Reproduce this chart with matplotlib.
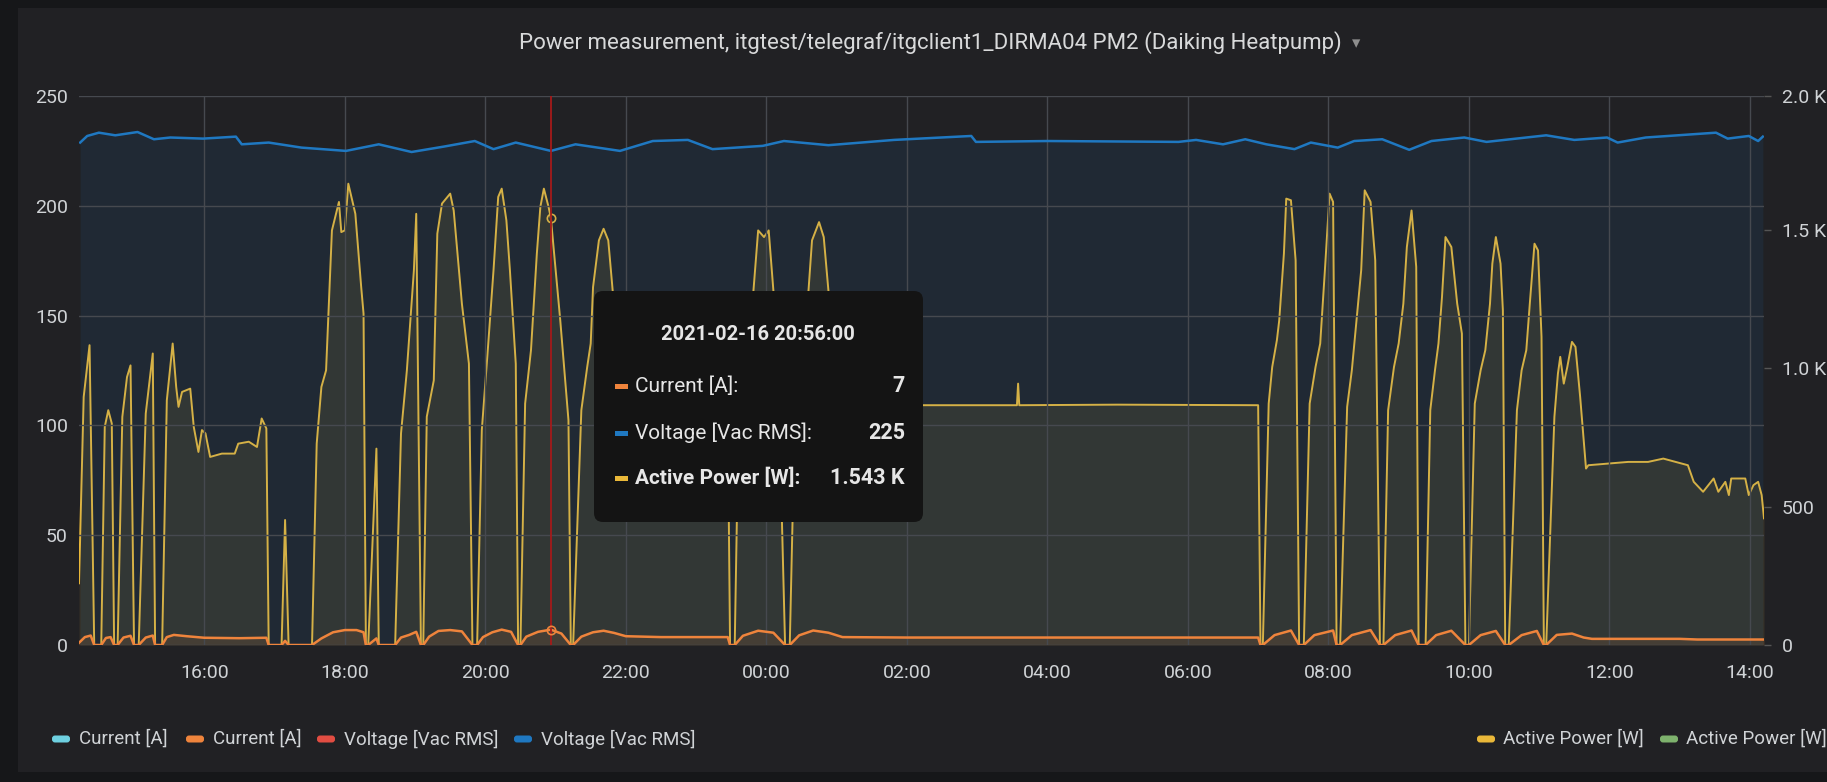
import numpy as np
import pandas as pd
import matplotlib
matplotlib.use("Agg")
import matplotlib.pyplot as plt
import matplotlib.dates as mdates
from matplotlib.patches import FancyBboxPatch, Rectangle
from matplotlib.transforms import IdentityTransform

plt.rcParams['font.family'] = ['Roboto', 'DejaVu Sans']

START_DAY = "2021-02-16"

# Active power [W] (right axis)
power_time = [
    "14:13", "14:17", "14:22", "14:26", "14:32", "14:35", "14:38", "14:41", "14:43",
    "14:46", "14:50", "14:54", "14:57", "15:00", "15:04", "15:10", "15:16", "15:18",
    "15:24", "15:28", "15:33", "15:36", "15:38", "15:41", "15:48", "15:51", "15:55",
    "15:58", "16:01", "16:05", "16:15", "16:26", "16:29", "16:38", "16:45", "16:49",
    "16:53", "16:55", "17:06", "17:09", "17:12", "17:32", "17:36", "17:40", "17:44",
    "17:49", "17:55", "17:57", "18:00", "18:03", "18:06", "18:09", "18:14", "18:16",
    "18:18", "18:20", "18:27", "18:29", "18:43", "18:48", "18:53", "18:59", "19:01",
    "19:05", "19:07", "19:10", "19:16", "19:19", "19:23", "19:30", "19:33", "19:40",
    "19:46", "19:49", "19:53", "19:57", "20:02", "20:07", "20:11", "20:14", "20:18",
    "20:21", "20:26", "20:28", "20:30", "20:34", "20:39", "20:44", "20:47", "20:50",
    "20:54", "20:56", "21:04", "21:11", "21:13", "21:15", "21:22", "21:27", "21:30",
    "21:32", "21:37", "21:41", "21:45", "21:49", "21:58", "22:30", "23:27", "23:29",
    "23:33", "23:36", "23:42", "23:49", "23:53", "23:58", "00:02", "00:06", "00:10",
    "00:16", "00:20", "00:24", "00:30", "00:36", "00:39", "00:45", "00:49", "00:53",
    "01:00", "01:05", "02:14", "03:34", "03:35", "03:36", "05:00", "07:00", "07:02",
    "07:04", "07:09", "07:12", "07:16", "07:18", "07:22", "07:24", "07:28", "07:32",
    "07:35", "07:39", "07:44", "07:49", "07:53", "07:57", "08:01", "08:04", "08:07",
    "08:10", "08:16", "08:20", "08:24", "08:28", "08:31", "08:36", "08:40", "08:44",
    "08:47", "08:51", "08:56", "09:00", "09:04", "09:07", "09:11", "09:15", "09:17",
    "09:23", "09:27", "09:31", "09:34", "09:37", "09:40", "09:45", "09:50", "09:54",
    "09:57", "10:00", "10:05", "10:10", "10:14", "10:18", "10:20", "10:23", "10:27",
    "10:29", "10:31", "10:34", "10:41", "10:45", "10:49", "10:52", "10:56", "10:59",
    "11:02", "11:04", "11:06", "11:13", "11:16", "11:18", "11:21", "11:24", "11:28",
    "11:31", "11:35", "11:40", "11:42", "11:59", "12:16", "12:33", "12:46", "13:02",
    "13:07", "13:12", "13:20", "13:29", "13:33", "13:39", "13:42", "13:44", "13:56",
    "13:59", "14:03", "14:07", "14:10", "14:12",
]
power_w = [
    223, 897, 1084, 0, 0, 789, 849, 801, 0,
    0, 825, 969, 1011, 0, 0, 837, 1054, 0,
    0, 885, 1090, 933, 861, 915, 927, 789, 698,
    777, 765, 680, 692, 692, 728, 735, 716, 819,
    783, 0, 0, 452, 0, 0, 728, 933, 993,
    1499, 1602, 1493, 1499, 1668, 1614, 1559, 1294, 1198,
    0, 0, 710, 0, 0, 765, 993, 1355, 1559,
    0, 0, 825, 957, 1487, 1596, 1632, 1571, 1234,
    1017, 0, 0, 777, 1060, 1355, 1620, 1650, 1535,
    1355, 1017, 0, 0, 873, 1066, 1415, 1584, 1650,
    1584, 1543, 1174, 813, 0, 0, 849, 1005, 1090,
    1294, 1463, 1505, 1463, 1270, 880, 870, 868, 0,
    0, 750, 1000, 1282, 1499, 1475, 1499, 1282, 1000,
    0, 0, 760, 1050, 1282, 1463, 1529, 1475, 1282,
    950, 868, 867, 867, 945, 867, 869, 867, 0,
    0, 873, 1005, 1102, 1174, 1415, 1614, 1608, 1391,
    0, 0, 873, 1005, 1090, 1355, 1632, 1602, 0,
    0, 861, 993, 1174, 1355, 1644, 1602, 1391, 0,
    0, 849, 1005, 1090, 1234, 1439, 1571, 1367, 0,
    0, 849, 993, 1090, 1258, 1475, 1439, 1234, 1126,
    0, 0, 873, 993, 1066, 1234, 1379, 1475, 1379,
    1210, 0, 0, 849, 993, 1066, 1234, 1451, 1427,
    1114, 0, 0, 825, 981, 1042, 945, 1005, 1096,
    1078, 897, 638, 650, 656, 662, 662, 674, 656,
    650, 590, 554, 602, 554, 590, 542, 602, 602,
    542, 578, 590, 542, 458,
]

# Current [A] (left axis)
current_time = [
    "14:13", "14:18", "14:23", "14:26", "14:32", "14:36", "14:40", "14:43",
    "14:46", "14:51", "14:57", "15:00", "15:04", "15:10", "15:16", "15:18",
    "15:24", "15:28", "15:34", "15:45", "16:00", "16:30", "16:53", "16:55",
    "17:06", "17:09", "17:12", "17:32", "17:40", "17:50", "18:00", "18:10", "18:16", "18:18",
    "18:20", "18:27", "18:29", "18:43", "18:48", "18:55", "19:01", "19:05",
    "19:07", "19:12", "19:20", "19:30", "19:40", "19:49",
    "19:53", "19:58", "20:06", "20:14", "20:22", "20:28",
    "20:30", "20:35", "20:45", "20:56", "21:05", "21:13",
    "21:15", "21:22", "21:32", "21:41", "21:50", "22:00", "22:30", "23:27", "23:29",
    "23:33", "23:40", "23:53", "00:06", "00:16",
    "00:20", "00:28", "00:40", "00:53", "01:05", "02:00", "07:00", "07:02",
    "07:04", "07:14", "07:28", "07:35", "07:39", "07:48", "08:04", "08:07",
    "08:10", "08:20", "08:36", "08:44", "08:47", "08:57", "09:11", "09:17",
    "09:23", "09:32", "09:45", "09:57", "10:00", "10:10", "10:23", "10:31",
    "10:34", "10:45", "10:58", "11:04",
    "11:06", "11:15", "11:28", "11:38", "11:45", "13:00", "13:15", "14:12",
]
current_a = [
    1.0, 3.6, 4.3, 0, 0, 3.2, 3.6, 0,
    0, 3.4, 4.2, 0, 0, 3.4, 4.3, 0,
    0, 3.6, 4.6, 4.0, 3.3, 3.1, 3.3, 0,
    0, 1.9, 0, 0, 3.0, 5.8, 6.8, 6.8, 5.8, 0,
    0, 3.0, 0, 0, 3.4, 4.6, 6.0, 0,
    0, 3.8, 6.4, 6.8, 6.2, 0,
    0, 3.6, 5.8, 7.0, 6.0, 0,
    0, 3.8, 6.0, 7.0, 5.2, 0,
    0, 3.8, 5.8, 6.5, 5.5, 4.0, 3.6, 3.6, 0,
    0, 4.2, 6.5, 5.6, 0,
    0, 4.4, 6.6, 5.6, 3.6, 3.4, 3.4, 0,
    0, 4.5, 6.6, 0, 0, 4.5, 6.6, 0,
    0, 4.5, 6.8, 0, 0, 4.5, 6.6, 0,
    0, 4.5, 6.5, 0, 0, 4.5, 6.4, 0,
    0, 4.5, 6.4, 0,
    0, 4.6, 5.2, 3.4, 2.8, 2.8, 2.5, 2.5,
]

# Voltage [Vac RMS] (left axis)
voltage_time = [
    "14:14", "14:20", "14:30", "14:44", "15:03", "15:17", "15:31", "15:59", "16:27",
    "16:32", "16:55", "17:23", "18:01", "18:29", "18:57", "19:25", "19:51", "20:07",
    "20:26", "20:56", "21:17", "21:55", "22:23", "22:53", "23:14", "23:57", "00:15",
    "00:53", "01:49", "02:55", "02:59", "04:00", "05:52", "06:07", "06:30", "06:49",
    "07:07", "07:31", "07:45", "08:08", "08:22", "08:46", "09:09", "09:28", "09:56",
    "10:15", "11:06", "11:30", "11:58", "12:07", "12:31", "13:31", "13:41", "13:59",
    "14:07", "14:11",
]
voltage_v = [
    228.8, 231.8, 233.3, 232.1, 233.6, 230.3, 231.1, 230.6, 231.5,
    228.0, 228.8, 226.5, 225.0, 228.0, 224.5, 227.0, 229.5, 225.8,
    228.8, 225.0, 228.0, 225.0, 229.5, 230.0, 225.8, 227.3, 229.5,
    227.6, 230.0, 231.8, 229.1, 229.5, 229.1, 230.0, 228.0, 230.3,
    228.0, 225.8, 228.8, 226.5, 229.5, 230.3, 225.5, 229.5, 231.1,
    229.1, 232.1, 230.0, 231.1, 228.8, 231.1, 233.3, 230.6, 231.8,
    229.5, 231.5,
]

left_ticks = [0, 50, 100, 150, 200, 250]
right_ticks = [0, 500, 1000, 1500, 1985]
right_labels = ["0", "500", "1.0 K", "1.5 K", "2.0 K"]

hover_time = "2021-02-16 20:56"
tooltip_rows = [("Current [A]:", "7"), ("Voltage [Vac RMS]:", "225"), ("Active Power [W]:", "1.543 K")]


def to_stamps(clock):
    day = pd.Timestamp(START_DAY)
    out, prev = [], None
    for c in clock:
        t = pd.Timestamp(f"{day.date()} {c}")
        if prev is not None and t < prev:
            day += pd.Timedelta(days=1)
            t += pd.Timedelta(days=1)
        out.append(t)
        prev = t
    return out


t_power = to_stamps(power_time)
t_current = to_stamps(current_time)
t_voltage = to_stamps(voltage_time)

BG = "#161719"
PANEL = "#212124"
TXT = "#d0d3d6"
GRID = "#46494f"
BLUE = "#1f78c1"
YELLOW = "#eab839"
ORANGE = "#ef843c"
CYAN = "#6ed0e0"
RED = "#e24d42"
GREEN = "#7eb26d"

W, H = 1827, 782
fig = plt.figure(figsize=(W / 100, H / 100), dpi=100, facecolor=BG)
px = IdentityTransform()

fig.patches.append(Rectangle((18, 10), W - 18, H - 18, transform=px,
                             facecolor=PANEL, edgecolor="none", zorder=-5))

ax = fig.add_axes([79 / W, 1 - 645 / H, (1764 - 79) / W, (645 - 96) / H])
ax2 = ax.twinx()
ax.set_zorder(ax2.get_zorder() + 1)
ax.patch.set_visible(False)

# power on the right axis
ax2.fill_between(t_power, power_w, color=YELLOW, alpha=0.1, lw=0)
ax2.plot(t_power, power_w, color=YELLOW, lw=1.4)
ax2.set_ylim(0, 1985)

# voltage and current on the left axis
ax.fill_between(t_voltage, voltage_v, color=BLUE, alpha=0.1, lw=0)
ax.plot(t_voltage, voltage_v, color=BLUE, lw=1.8)
ax.fill_between(t_current, current_a, color=ORANGE, alpha=0.1, lw=0)
ax.plot(t_current, current_a, color=ORANGE, lw=1.8)
ax.set_ylim(0, 250)

start = pd.Timestamp("2021-02-16 14:13")
end = pd.Timestamp("2021-02-17 14:12")
ax.set_xlim(start, end)

hover = pd.Timestamp(hover_time)
ax.axvline(hover, color="#a51a1a", lw=1.3)
ax2.plot([hover], [1543], marker="o", ms=6, mfc="none", mec=YELLOW, mew=1.2)
ax.plot([hover], [7], marker="o", ms=6, mfc="none", mec=ORANGE, mew=1.2)

ax.xaxis.set_major_locator(mdates.HourLocator(byhour=range(0, 24, 2)))
ax.xaxis.set_major_formatter(mdates.DateFormatter("%H:%M"))
ax.set_yticks(left_ticks)
ax.grid(True, color=GRID, lw=1)
ax.tick_params(axis="x", length=0, pad=14, labelsize=14, colors=TXT)
ax.tick_params(axis="y", length=0, pad=8, labelsize=14, colors=TXT)
ax2.set_yticks(right_ticks)
ax2.set_yticklabels(right_labels)
ax2.tick_params(axis="y", length=5, width=1, color="#555", pad=8, labelsize=14, colors=TXT)
for a in (ax, ax2):
    for s in a.spines.values():
        s.set_visible(False)

# title
fig.text(930, H - 43, "Power measurement, itgtest/telegraf/itgclient1_DIRMA04 PM2 (Daiking Heatpump)",
         transform=px, ha="center", va="center", fontsize=16, color="#d8d9da")
fig.text(1356, H - 43, "\u25be", transform=px, ha="center", va="center", fontsize=12,
         color="#8e8e8e", family=["DejaVu Sans"])

# legend
legend_items = [
    (52, 79, "Current [A]", CYAN), (186, 213, "Current [A]", ORANGE),
    (317, 344, "Voltage [Vac RMS]", RED), (514, 541, "Voltage [Vac RMS]", BLUE),
    (1477, 1503, "Active Power [W]", YELLOW), (1660, 1686, "Active Power [W]", GREEN),
]
for sx, tx, label, col in legend_items:
    fig.patches.append(FancyBboxPatch((sx, H - 739 - 3.5), 18, 7, transform=px,
                                      boxstyle="round,pad=0,rounding_size=3",
                                      facecolor=col, edgecolor="none"))
    fig.text(tx, H - 739, label, transform=px, ha="left", va="center",
             fontsize=13.5, color=TXT)

# tooltip
fig.patches.append(FancyBboxPatch((594, H - 522), 329, 231, transform=px,
                                  boxstyle="round,pad=0,rounding_size=9",
                                  facecolor="#141414", edgecolor="none", zorder=4))
fig.text(758, H - 334, "2021-02-16 20:56:00", transform=px, ha="center", va="center",
         fontsize=14.5, fontweight="bold", color="#e6e6e6", zorder=5)
row_y = [386, 433, 478]
row_col = [ORANGE, BLUE, YELLOW]
for (name, val), y, col in zip(tooltip_rows, row_y, row_col):
    bold = name.startswith("Active")
    fig.patches.append(Rectangle((615, H - y - 2.5), 13, 5, transform=px,
                                 facecolor=col, edgecolor="none", zorder=5))
    fig.text(635, H - y, name, transform=px, ha="left", va="center", fontsize=15,
             fontweight="bold" if bold else "normal", color="#e6e6e6", zorder=5)
    fig.text(905, H - y, val, transform=px, ha="right", va="center", fontsize=15.5,
             fontweight="bold", color="#e6e6e6", zorder=5)

fig.savefig("out.png", dpi=100, facecolor=BG)
